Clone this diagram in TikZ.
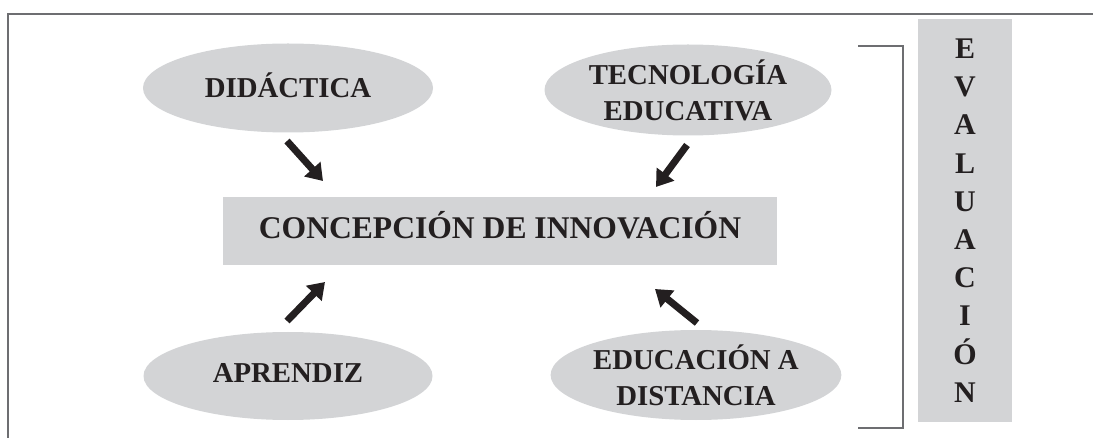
\documentclass[tikz,border=0pt]{standalone}
\usepackage{fontspec}
\setmainfont{Liberation Serif}
\usepackage{xcolor}
\usepackage{tikz}
\usetikzlibrary{arrows.meta, positioning, shapes.geometric}
\definecolor{diagcolor0}{HTML}{D3D4D6}
\definecolor{diagcolor1}{HTML}{231F20}
\definecolor{diagcolor2}{HTML}{6D6E71}
\tikzset{
  topic_ellipse/.style={ellipse, fill=diagcolor0, text=diagcolor1, inner sep=0pt, align=center, font=\fontsize{14.4}{18}\selectfont\bfseries},
  topic_single/.style={topic_ellipse, text height=9.5pt, text depth=0pt},
  central_box/.style={rectangle, fill=diagcolor0, text=diagcolor1, inner sep=0pt, minimum width=277pt, minimum height=34pt, text height=10.5pt, text depth=3pt, font=\fontsize{15.8}{19}\selectfont\bfseries},
  eval_box/.style={rectangle, fill=diagcolor0, text=diagcolor1, inner sep=0pt, minimum width=47pt, minimum height=201.5pt, align=center, font=\fontsize{15}{19.1}\selectfont\bfseries},
  big_arrow/.style={draw=diagcolor1, line width=3.5pt, -{Triangle[width=10.5pt, length=8pt]}},
  frame_line/.style={draw=diagcolor2, line width=0.75pt}
}

\begin{document}
\begin{tikzpicture}[x=0.5pt, y=-0.5pt]
\useasboundingbox (0,0) rectangle (1093,438);
% outer frame and bracket
\draw[frame_line] (8,438) -- (8,14) -- (1093,14);
\draw[frame_line] (858,46) -- (903,46) -- (903,428) -- (858,428);
% topics
\node[topic_single, minimum width=145pt, minimum height=44.5pt] (didactica) at (288,88) {DIDÁCTICA};
\node[topic_ellipse, minimum width=143.5pt, minimum height=45.5pt] (tecnologia) at (688,90) {TECNOLOGÍA\\EDUCATIVA};
\node[topic_single, minimum width=144.5pt, minimum height=44pt, text depth=2.5pt] (aprendiz) at (288,376) {APRENDIZ};
\node[topic_ellipse, minimum width=144pt, minimum height=45pt] (educacion) at (696,375) {EDUCACIÓN A\\DISTANCIA};
\node[central_box] (concepcion) at (500,231) {CONCEPCIÓN DE INNOVACIÓN};
\node[eval_box] (evaluacion) at (965,220.5) {E\\V\\A\\L\\U\\A\\C\\I\\Ó\\N};
% arrow ends
\coordinate (didactica_tail) at (287,141);
\coordinate (didactica_tip) at (323,181);
\coordinate (tecnologia_tail) at (687,145);
\coordinate (tecnologia_tip) at (656,187);
\coordinate (aprendiz_tail) at (287,321);
\coordinate (aprendiz_tip) at (325,282);
\coordinate (educacion_tail) at (697,323);
\coordinate (educacion_tip) at (655,289);
\draw[big_arrow] (didactica_tail) -- (didactica_tip);
\draw[big_arrow] (tecnologia_tail) -- (tecnologia_tip);
\draw[big_arrow] (aprendiz_tail) -- (aprendiz_tip);
\draw[big_arrow] (educacion_tail) -- (educacion_tip);
\end{tikzpicture}
\end{document}
